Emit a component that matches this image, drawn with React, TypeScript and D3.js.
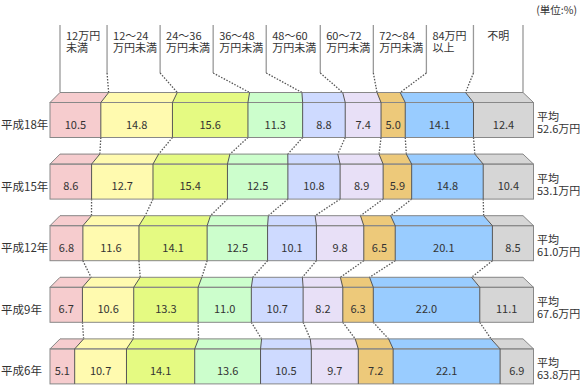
import React from 'react';
import * as d3 from 'd3';

const categories = [
  ['12万円', '未満'],
  ['12～24', '万円未満'],
  ['24～36', '万円未満'],
  ['36～48', '万円未満'],
  ['48～60', '万円未満'],
  ['60～72', '万円未満'],
  ['72～84', '万円未満'],
  ['84万円', '以上'],
  ['不明'],
];
const years = ['平成18年', '平成15年', '平成12年', '平成9年', '平成6年'];
const averages = ['52.6', '53.1', '61.0', '67.6', '63.8'];
const valuesH18 = [10.5, 14.8, 15.6, 11.3, 8.8, 7.4, 5.0, 14.1, 12.4];
const valuesH15 = [8.6, 12.7, 15.4, 12.5, 10.8, 8.9, 5.9, 14.8, 10.4];
const valuesH12 = [6.8, 11.6, 14.1, 12.5, 10.1, 9.8, 6.5, 20.1, 8.5];
const valuesH9 = [6.7, 10.6, 13.3, 11.0, 10.7, 8.2, 6.3, 22.0, 11.1];
const valuesH6 = [5.1, 10.7, 14.1, 13.6, 10.5, 9.7, 7.2, 22.1, 6.9];
const seriesValues = [valuesH18, valuesH15, valuesH12, valuesH9, valuesH6];
const unitLabel = '(単位:%)';

// layout / style
const colors = ['#F6CCCE', '#FFFAAF', '#E5FA82', '#CCFECC', '#CEDAFF', '#E8E0F7', '#EDC97A', '#99CCFF', '#D6D6D6'];
const headerWeights = [47, 53, 53, 53, 54, 53, 53, 47, 49.5];
const FONT = '"Noto Sans CJK JP", "Noto Sans", sans-serif';
const W = 580, H = 390;
const FRONT_X0 = 50, FRONT_X1 = 533.5, BACK_X0 = 60, BACK_X1 = 523;
const FIRST_TOP = 102.5, ROW_STEP = 61.6, DEPTH = 10, FACE_H = 35;
const HEADER_TOP = 25, HEADER_SOLID_END = 73;
const TEXT = '#333';

export default function App() {
  const rows = seriesValues.map((vals, r) => {
    const sum = d3.sum(vals);
    const fx = d3.scaleLinear().domain([0, sum]).range([FRONT_X0, FRONT_X1]);
    const bx = d3.scaleLinear().domain([0, sum]).range([BACK_X0, BACK_X1]);
    const cum = [0, ...Array.from(d3.cumsum(vals))];
    cum[cum.length - 1] = sum;
    const frontTop = FIRST_TOP + r * ROW_STEP;
    return { vals, fx, bx, cum, frontTop, backTop: frontTop - DEPTH, bottom: frontTop + FACE_H };
  });

  const hCum = [0, ...Array.from(d3.cumsum(headerWeights))];
  const hx = d3.scaleLinear().domain([0, d3.sum(headerWeights)]).range([BACK_X0, BACK_X1]);
  const first = rows[0];

  return (
    <div style={{ position: 'absolute', left: 0, top: 0 }}>
      <svg width={W} height={H} style={{ display: 'block', fontFamily: FONT }}>
        <rect width={W} height={H} fill="#fff" />
        <text x={577} y={14} fontSize={10.5} fill={TEXT} textAnchor="end">{unitLabel}</text>

        {/* header lines */}
        {hCum.map((c, i) => {
          const x = hx(c);
          const isEdge = i === 0 || i === hCum.length - 1;
          const target = first.bx(first.cum[i]);
          return (
            <g key={'h' + i}>
              <line x1={x} x2={x} y1={HEADER_TOP} y2={isEdge ? first.backTop : HEADER_SOLID_END} stroke="#999" strokeWidth={1.3} />
              {!isEdge && (
                <line x1={x} y1={HEADER_SOLID_END} x2={target} y2={first.backTop} stroke="#555" strokeWidth={1.3} strokeDasharray="1.5,1.5" />
              )}
            </g>
          );
        })}
        {categories.map((lines, i) => {
          const x0 = hx(hCum[i]);
          const x1 = hx(hCum[i + 1]);
          const single = lines.length === 1;
          const tx = single ? (x0 + x1) / 2 : x0 + 6;
          return lines.map((l, k) => (
            <text key={'c' + i + '-' + k} x={tx} y={40 + k * 11.5} fontSize={11} fill={TEXT} textAnchor={single ? 'middle' : 'start'}>{l}</text>
          ));
        })}

        {/* connectors between rows */}
        {rows.slice(0, -1).map((row, r) => {
          const next = rows[r + 1];
          return row.cum.slice(1, -1).map((c, i) => (
            <line key={'k' + r + '-' + i} x1={row.fx(c)} y1={row.bottom} x2={next.bx(next.cum[i + 1])} y2={next.backTop}
              stroke="#555" strokeWidth={1.3} strokeDasharray="1.5,1.5" />
          ));
        })}

        {rows.map((row, r) => (
          <g key={'r' + r}>
            {row.vals.map((v, i) => {
              const c0 = row.cum[i], c1 = row.cum[i + 1];
              const top = `${row.bx(c0)},${row.backTop} ${row.bx(c1)},${row.backTop} ${row.fx(c1)},${row.frontTop} ${row.fx(c0)},${row.frontTop}`;
              return (
                <g key={i}>
                  <polygon points={top} fill={colors[i]} stroke={colors[i]} strokeWidth={0.5} />
                  <rect x={row.fx(c0)} y={row.frontTop} width={row.fx(c1) - row.fx(c0)} height={FACE_H} fill={colors[i]} />
                </g>
              );
            })}
            {/* outer outline */}
            <polygon points={`${BACK_X0},${row.backTop} ${BACK_X1},${row.backTop} ${FRONT_X1},${row.frontTop} ${FRONT_X0},${row.frontTop}`}
              fill="none" stroke="#888" strokeWidth={1} />
            <rect x={FRONT_X0} y={row.frontTop} width={FRONT_X1 - FRONT_X0} height={FACE_H} fill="none" stroke="#888" strokeWidth={1} />
            {/* dividers */}
            {row.cum.slice(1, -1).map((c, i) => (
              <g key={'d' + i}>
                <line x1={row.bx(c)} y1={row.backTop} x2={row.fx(c)} y2={row.frontTop} stroke="#555" strokeWidth={1} />
                <line x1={row.fx(c)} y1={row.frontTop} x2={row.fx(c)} y2={row.bottom} stroke="#555" strokeWidth={1} />
              </g>
            ))}
            {row.vals.map((v, i) => (
              <text key={'v' + i} x={(row.fx(row.cum[i]) + row.fx(row.cum[i + 1])) / 2} y={row.frontTop + 26}
                fontSize={11} fill={TEXT} textAnchor="middle">{v.toFixed(1)}</text>
            ))}
            <text x={1} y={row.frontTop + 26.5} fontSize={11.5} fill={TEXT}>{years[r]}</text>
            <text x={537} y={row.frontTop + 18.5} fontSize={11} fill={TEXT}>平均</text>
            <text x={537} y={row.frontTop + 30.5} fontSize={11} fill={TEXT}>{averages[r] + '万円'}</text>
          </g>
        ))}
      </svg>
    </div>
  );
}
